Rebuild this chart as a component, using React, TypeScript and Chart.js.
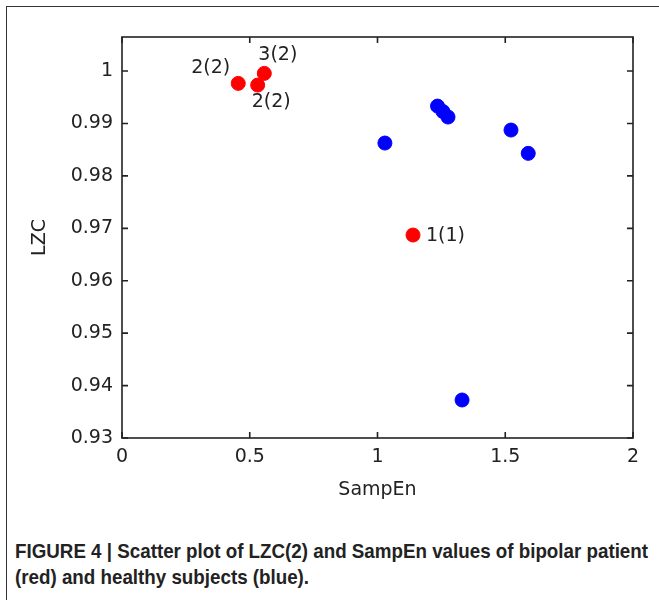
import React, { useEffect, useRef } from "react";
import { Chart, registerables } from "chart.js";

Chart.register(...registerables);

// ---- data ----
const redX = [0.455, 0.531, 0.557, 1.139];
const redY = [0.99765, 0.99733, 0.99956, 0.96872];
const redLabels = ["2(2)", "2(2)", "3(2)", "1(1)"];

const blueX = [1.029, 1.235, 1.256, 1.276, 1.5225, 1.59, 1.331];
const blueY = [0.98627, 0.99332, 0.99228, 0.99123, 0.98875, 0.9843, 0.93725];

const xTicks = [0, 0.5, 1, 1.5, 2];
const xTickLabels = ["0", "0.5", "1", "1.5", "2"];
const yTicks = [0.93, 0.94, 0.95, 0.96, 0.97, 0.98, 0.99, 1];
const yTickLabels = ["0.93", "0.94", "0.95", "0.96", "0.97", "0.98", "0.99", "1"];

const xTitle = "SampEn";
const yTitle = "LZC";
const captionLines = [
  "FIGURE 4 | Scatter plot of LZC(2) and SampEn values of bipolar patient",
  "(red) and healthy subjects (blue).",
];

// ---- style ----
const labelStyle = [
  { dx: -8, dy: -15, align: "right" },
  { dx: -6, dy: 17, align: "left" },
  { dx: -6, dy: -18, align: "left" },
  { dx: 13, dy: 1, align: "left" },
];
const FONT_FAMILY = "'DejaVu Sans', sans-serif";
const FONT_SIZE = 19;
const TEXT_COLOR = "#222";
const CAPTION_FONT = "bold 21px 'Liberation Sans', Arial, sans-serif";
const CAPTION_WIDTH = 633;

const boxPlugin = {
  id: "boxPlugin",
  afterDraw(chart: any) {
    const ctx = chart.ctx;
    const { left, right, top, bottom } = chart.chartArea;
    const xs = chart.scales.x;
    const ys = chart.scales.y;
    const tl = 6;
    ctx.save();
    ctx.strokeStyle = "#222";
    ctx.lineWidth = 1.6;
    ctx.strokeRect(left, top, right - left, bottom - top);
    ctx.beginPath();
    xTicks.forEach((v) => {
      const px = xs.getPixelForValue(v);
      ctx.moveTo(px, bottom);
      ctx.lineTo(px, bottom - tl);
      ctx.moveTo(px, top);
      ctx.lineTo(px, top + tl);
    });
    yTicks.forEach((v) => {
      const py = ys.getPixelForValue(v);
      ctx.moveTo(left, py);
      ctx.lineTo(left + tl, py);
      ctx.moveTo(right, py);
      ctx.lineTo(right - tl, py);
    });
    ctx.stroke();

    // axis titles
    ctx.fillStyle = TEXT_COLOR;
    ctx.font = `${FONT_SIZE}px ${FONT_FAMILY}`;
    ctx.textAlign = "center";
    ctx.textBaseline = "middle";
    ctx.fillText(xTitle, (left + right) / 2, bottom + 52);
    ctx.save();
    ctx.translate(left - 82, (top + bottom) / 2);
    ctx.rotate(-Math.PI / 2);
    ctx.fillText(yTitle, 0, 0);
    ctx.restore();

    // point labels
    const meta = chart.getDatasetMeta(0);
    meta.data.forEach((pt: any, i: number) => {
      const st = labelStyle[i];
      ctx.textAlign = st.align;
      ctx.fillText(redLabels[i], pt.x + st.dx, pt.y + st.dy);
    });
    ctx.restore();
  },
};

export default function App() {
  const ref = useRef<HTMLCanvasElement | null>(null);
  const capRef = useRef<HTMLDivElement | null>(null);
  useEffect(() => {
    if (!ref.current) return;
    const tickFont = { family: FONT_FAMILY, size: FONT_SIZE };
    const chart = new Chart(ref.current, {
      type: "scatter",
      data: {
        datasets: [
          {
            data: redX.map((x, i) => ({ x, y: redY[i] })),
            backgroundColor: "#ff0000",
            borderColor: "#ff0000",
            pointRadius: 7,
            borderWidth: 1,
          },
          {
            data: blueX.map((x, i) => ({ x, y: blueY[i] })),
            backgroundColor: "#0000ff",
            borderColor: "#0000ff",
            pointRadius: 7,
            borderWidth: 1,
          },
        ],
      },
      options: {
        responsive: false,
        animation: false,
        devicePixelRatio: 1,
        layout: { padding: { left: 0, top: 37, right: 26, bottom: 0 } },
        plugins: { legend: { display: false }, tooltip: { enabled: false } },
        scales: {
          x: {
            type: "linear",
            min: 0,
            max: 2,
            afterBuildTicks: (s: any) => {
              s.ticks = xTicks.map((v) => ({ value: v }));
            },
            afterFit: (s: any) => {
              s.height = 82;
            },
            ticks: {
              autoSkip: false,
              maxRotation: 0,
              padding: 8,
              color: TEXT_COLOR,
              font: tickFont,
              callback: (v: any) => xTickLabels[xTicks.indexOf(v)],
            },
            grid: { display: false, drawTicks: false },
            border: { display: false },
          },
          y: {
            type: "linear",
            min: 0.93,
            max: 1.0065,
            afterBuildTicks: (s: any) => {
              s.ticks = yTicks.map((v) => ({ value: v }));
            },
            afterFit: (s: any) => {
              s.width = 122;
            },
            ticks: {
              autoSkip: false,
              padding: 9,
              color: TEXT_COLOR,
              font: tickFont,
              callback: (v: any) => yTickLabels[yTicks.indexOf(v)],
            },
            grid: { display: false, drawTicks: false },
            border: { display: false },
          },
        },
      },
      plugins: [boxPlugin],
    } as any);

    // fit caption width
    if (capRef.current) {
      const c = document.createElement("canvas").getContext("2d");
      if (c) {
        c.font = CAPTION_FONT;
        const w = c.measureText(captionLines[0]).width;
        capRef.current.style.transform = `scaleX(${CAPTION_WIDTH / w})`;
      }
    }
    return () => chart.destroy();
  }, []);

  return (
    <div
      style={{
        position: "fixed",
        left: 0,
        top: 0,
        width: 659,
        height: 600,
        overflow: "hidden",
        background: "#fff",
      }}
    >
      <div
        style={{
          position: "absolute",
          left: 6,
          top: 6,
          width: 800,
          height: 800,
          borderLeft: "1px solid #333",
          borderTop: "1px solid #333",
        }}
      />
      <canvas
        ref={ref}
        width={659}
        height={520}
        style={{ position: "absolute", left: 0, top: 0, width: 659, height: 520 }}
      />
      <div
        ref={capRef}
        style={{
          position: "absolute",
          left: 15,
          top: 538,
          font: CAPTION_FONT,
          lineHeight: "26px",
          color: "#222",
          whiteSpace: "nowrap",
          transformOrigin: "0 0",
        }}
      >
        {captionLines.map((l, i) => (
          <div key={i}>{l}</div>
        ))}
      </div>
    </div>
  );
}
